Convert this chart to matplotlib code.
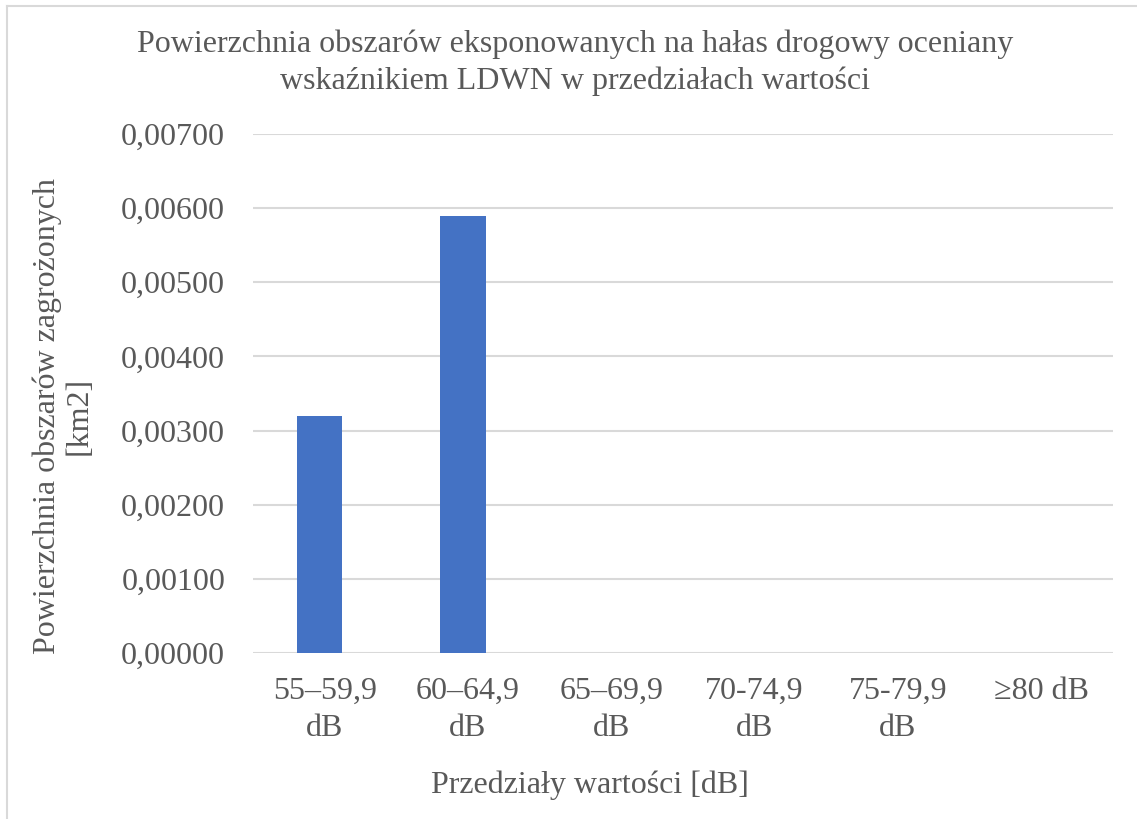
import numpy as np
import matplotlib
matplotlib.use('Agg')
import matplotlib.pyplot as plt
from matplotlib.lines import Line2D

plt.rcParams['font.family'] = ['Liberation Serif', 'DejaVu Serif']

# data
categories = ['55–59,9\ndB', '60–64,9\ndB', '65–69,9\ndB', '70-74,9\ndB', '75-79,9\ndB', '≥80 dB']
values = [0.0032, 0.0059, 0.0, 0.0, 0.0, 0.0]
yticks = [0.0, 0.001, 0.002, 0.003, 0.004, 0.005, 0.006, 0.007]

title = 'Powierzchnia obszarów eksponowanych na hałas drogowy oceniany\nwskaźnikiem LDWN w przedziałach wartości'
xlabel = 'Przedziały wartości [dB]'
ylabel = 'Powierzchnia obszarów zagrożonych\n[km2]'

txt = '#595959'
W, H = 1137, 819

fig = plt.figure(figsize=(W / 100, H / 100), dpi=100, facecolor='w')
ax = fig.add_axes([253 / W, 1 - 653 / H, (1113 - 253) / W, (653 - 134) / H])

x = np.arange(len(categories))
ax.bar(x - 0.035, values, width=0.315, color='#4472C4', zorder=3)

ax.set_xlim(-0.5, len(categories) - 0.5)
ax.set_ylim(0, 0.007)
ax.set_yticks(yticks)
ax.set_yticklabels([('%.5f' % v).replace('.', ',') for v in yticks])
ax.set_xticks(x)
ax.set_xticklabels(categories, linespacing=1.36)

ax.grid(axis='y', color='#D9D9D9', linewidth=1.5, zorder=0)
for s in ax.spines.values():
	s.set_visible(False)
ax.tick_params(axis='both', length=0, labelsize=23, colors=txt)
ax.tick_params(axis='y', pad=20)
ax.tick_params(axis='x', pad=17)

fig.text(575 / W, 1 - 63 / H, title, ha='center', va='center', fontsize=23, color=txt, linespacing=1.33)
fig.text(590 / W, 1 - 785 / H, xlabel, ha='center', va='center', fontsize=23, color=txt)
fig.text(63 / W, 1 - 416 / H, ylabel, ha='center', va='center', rotation=90, fontsize=23, color=txt, linespacing=1.15)

# chart-area frame (only top and left visible in the crop)
fig.add_artist(Line2D([7 / W, 1], [1 - 6 / H, 1 - 6 / H], color='#D9D9D9', linewidth=1.5, transform=fig.transFigure))
fig.add_artist(Line2D([7 / W, 7 / W], [0, 1 - 6 / H], color='#D9D9D9', linewidth=1.5, transform=fig.transFigure))

plt.savefig('out.png', dpi=100)
